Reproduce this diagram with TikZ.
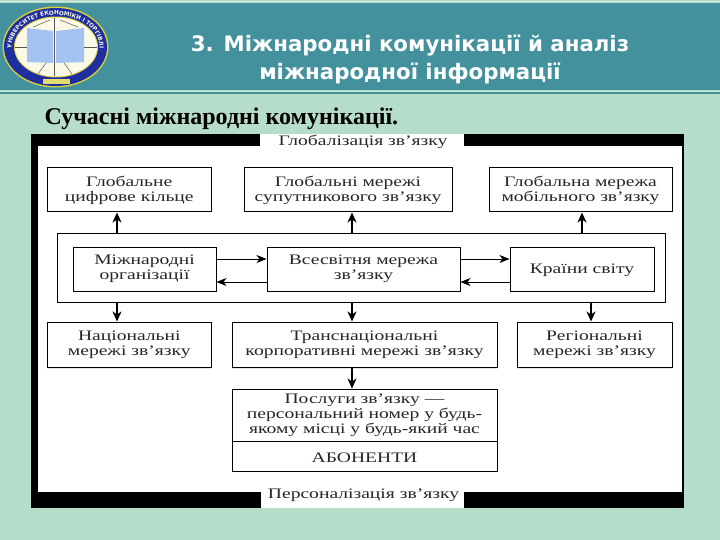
\documentclass[tikz,border=0pt]{standalone}
\usepackage{fontspec}
\setmainfont{Liberation Serif}
\newfontfamily\diagfont[FakeStretch=1.35]{Liberation Serif}
\newfontfamily\titlefont{DejaVu Sans}
\usetikzlibrary{arrows.meta,decorations.text,calc}
\definecolor{pagebg}{HTML}{B6DCCA}
\definecolor{headbg}{HTML}{43919D}
\definecolor{ringblue}{HTML}{1F2F9F}
\definecolor{ringgold}{HTML}{D8CF3C}
\definecolor{pageblue}{HTML}{A3C3F2}
\definecolor{cream}{HTML}{FBF8E6}
\definecolor{shade}{HTML}{8A8A8A}
\tikzset{
  x=1pt,y=-1pt,
  boxnode/.style={draw=black,line width=1pt,fill=white,align=center,inner sep=0pt,font=\diagfont\fontsize{14.5}{15}\selectfont,text=black!85,execute at begin node={\rule{0pt}{13pt}}},
  framelabel/.style={fill=white,inner sep=0pt,font=\diagfont\fontsize{14.5}{15}\selectfont,text=black!85},
  link/.style={line width=1.2pt,-{Stealth[length=10pt,width=9pt,inset=3pt]}},
  thinlink/.style={line width=.8pt,-{Stealth[length=10pt,width=8pt,inset=3pt]}},
  titletext/.style={text=white,font=\titlefont\bfseries\fontsize{21.3}{28}\selectfont,align=center,inner sep=0pt},
}
\newcommand{\boxat}[6]{\node[boxnode,minimum width=#3-#2,minimum height=#5-#4] (#1) at ({(#2+#3)/2},{(#4+#5)/2}) {#6};}
\begin{document}
\begin{tikzpicture}
\useasboundingbox (0,0) rectangle (720,540);
\fill[pagebg] (0,0) rectangle (720,540);
% header
\fill[headbg] (0,3) rectangle (720,90);
\draw[pagebg!70!white,line width=.8pt] (0,1.5) -- (720,1.5);
\draw[pagebg!70!white,line width=.8pt] (0,91.5) -- (720,91.5);
\fill[headbg] (0,92.5) rectangle (720,94);
% logo
\fill[ringgold] (55.5,47) ellipse [x radius=53,y radius=40.5];
\fill[ringblue] (55.5,47) ellipse [x radius=51.5,y radius=39];
\fill[ringgold] (56,47) ellipse [x radius=42,y radius=30.5];
\fill[cream] (56,47) ellipse [x radius=41,y radius=29.5];
\fill[pageblue] (27,28) -- (53,31) -- (53,63) -- (27,62) -- cycle;
\fill[pageblue] (56,31) -- (84,28) -- (84,62) -- (56,63) -- cycle;
\draw[black!65,line width=.6pt] (15,47) -- (27,47) (84,47) -- (97,47) (54.5,18) -- (54.5,76);
\draw[black!65,line width=.5pt] (38,74) -- (46,63) (72,74) -- (64,63) (33,27) -- (50,20) (78,27) -- (60,20);
\fill[ringgold!70!cream] (43,79) rectangle (70,84);
\path[decorate,decoration={text along path,text align=center,
  text={|\titlefont\bfseries\fontsize{5.7}{6}\selectfont\color{cream}|УНІВЕРСИТЕТ ЕКОНОМІКИ І ТОРГІВЛІ}}]
  (30.3,73.2) arc[start angle=235,end angle=-55,x radius=44pt,y radius=32pt];
% title
\node[titletext,anchor=base] (title) at (410,80) {3. Міжнародні комунікації й аналіз\\міжнародної інформації};
\node[inner sep=0pt,anchor=base west,font=\bfseries\fontsize{24}{26}\selectfont,text=black] (heading) at (44.5,125) {Сучасні міжнародні комунікації.};
% frame
\fill[black] (31,134) rectangle (684,508);
\fill[white] (38,146) rectangle (681.5,492);
\fill[white] (260,134) rectangle (464,146);
\fill[white] (261,492) rectangle (464,508);
\node[framelabel] (top) at (363,142) {Глобалізація зв’язку};
\node[framelabel] (bottom) at (363.5,495) {Персоналізація зв’язку};
% big container
\boxat{big}{57}{665}{233}{302}{}
% boxes
\boxat{g1}{47.5}{211}{168}{212}{Глобальне\\цифрове кільце}
\boxat{g2}{244}{452}{168}{212}{Глобальні мережі\\супутникового зв’язку}
\boxat{g3}{489}{672}{168}{212}{Глобальна мережа\\мобільного зв’язку}
\boxat{org}{73}{216}{247}{291}{Міжнародні\\організації}
\boxat{net}{267}{460}{247}{291}{Всесвітня мережа\\зв’язку}
\boxat{cty}{510}{654}{247}{291}{Країни світу}
\fill[shade] (47.5,366) rectangle (211,368.5);
\fill[shade] (232,366) rectangle (497,368.5);
\fill[shade] (517,366) rectangle (672,368.5);
\boxat{n1}{47.5}{211}{322}{367}{Національні\\мережі зв’язку}
\boxat{n2}{232}{497}{322}{367}{Транснаціональні\\корпоративні мережі зв’язку}
\boxat{n3}{517}{672}{322}{367}{Регіональні\\мережі зв’язку}
\boxat{svc}{232}{497}{389}{441}{Послуги зв’язку —\\персональний номер у будь-\\якому місці у будь-який час}
\boxat{sub}{232}{497}{441}{471}{АБОНЕНТИ}
% connector guides
\coordinate (xa) at (117,0);
\coordinate (xb) at (352,0);
\coordinate (xc) at (582,0);
\coordinate (xd) at (591,0);
\coordinate (yr) at (0,259);
\coordinate (yl) at (0,282);
% connectors
\draw[link] (big.north -| xa) -- (g1.south -| xa);
\draw[link] (big.north -| xb) -- (g2.south -| xb);
\draw[link] (big.north -| xc) -- (g3.south -| xc);
\draw[link] (big.south -| xa) -- (n1.north -| xa);
\draw[link] (big.south -| xb) -- (n2.north -| xb);
\draw[link] (big.south -| xd) -- (n3.north -| xd);
\draw[link] (n2.south -| xb) -- (svc.north -| xb);
\draw[thinlink] (org.east |- yr) -- (net.west |- yr);
\draw[thinlink] (net.west |- yl) -- (org.east |- yl);
\draw[thinlink] (net.east |- yr) -- (cty.west |- yr);
\draw[thinlink] (cty.west |- yl) -- (net.east |- yl);
\end{tikzpicture}
\end{document}
